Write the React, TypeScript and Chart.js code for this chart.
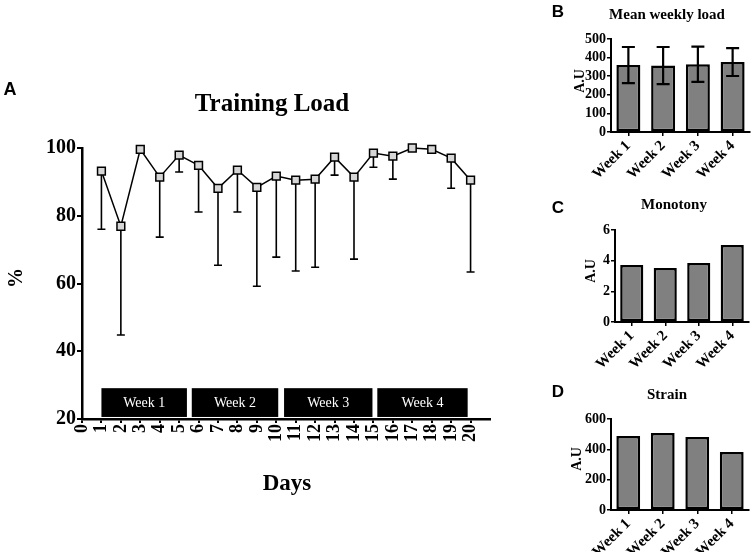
import React, { useEffect, useRef } from "react";
import Chart from "chart.js/auto";

const SERIF = "'Liberation Serif', 'Times New Roman', serif";
const SANS = "'Liberation Sans', Arial, sans-serif";

// ---- Panel A data ----
const days = [1, 2, 3, 4, 5, 6, 7, 8, 9, 10, 11, 12, 13, 14, 15, 16, 17, 18, 19, 20];
const meanPct = [93.2, 76.9, 99.6, 91.4, 97.9, 94.9, 88.1, 93.5, 88.4, 91.7, 90.5, 90.8, 97.3, 91.4, 98.5, 97.6, 100.0, 99.6, 97.0, 90.5];
const lowerPct: (number | null)[] = [76.0, 44.8, null, 73.7, 92.9, 81.1, 65.4, 81.1, 59.2, 67.8, 63.7, 64.8, 92.0, 67.2, 94.3, 90.8, null, null, 88.1, 63.4];

const weekLabels = ["Week 1", "Week 2", "Week 3", "Week 4"];
const weekStartDay = [1, 5.65, 10.4, 15.2];
const weekEndDay = [5.4, 10.1, 14.95, 19.85];
const weekBandLow = 20.6;
const weekBandHigh = 29.1;

// ---- Panels B, C, D data ----
const meanWeeklyLoad = [360, 357, 364, 376];
const meanWeeklyLoadSD = [97, 100, 95, 75];
const monotony = [3.72, 3.52, 3.85, 5.02];
const strain = [488, 508, 481, 382];

function MainChart() {
  const ref = useRef<HTMLCanvasElement>(null);
  useEffect(() => {
    const overlay = {
      id: "overlayA",
      beforeDatasetsDraw(chart: any) {
        const { ctx } = chart;
        const x = chart.scales.x;
        const y = chart.scales.y;
        ctx.save();
        ctx.strokeStyle = "#000";
        ctx.lineWidth = 1.6;
        days.forEach((d, i) => {
          const lo = lowerPct[i];
          if (lo == null) return;
          const px = x.getPixelForValue(d);
          const py = y.getPixelForValue(meanPct[i]);
          const pl = y.getPixelForValue(lo);
          ctx.beginPath();
          ctx.moveTo(px, py);
          ctx.lineTo(px, pl);
          ctx.moveTo(px - 4, pl);
          ctx.lineTo(px + 4, pl);
          ctx.stroke();
        });
        const yT = y.getPixelForValue(weekBandHigh);
        const yB = y.getPixelForValue(weekBandLow);
        weekLabels.forEach((lab, i) => {
          const x0 = x.getPixelForValue(weekStartDay[i]);
          const x1 = x.getPixelForValue(weekEndDay[i]);
          ctx.fillStyle = "#000";
          ctx.fillRect(x0, yT, x1 - x0, yB - yT);
          ctx.fillStyle = "#fff";
          ctx.font = `14px ${SERIF}`;
          ctx.textAlign = "center";
          ctx.textBaseline = "middle";
          ctx.fillText(lab, (x0 + x1) / 2, (yT + yB) / 2 + 1);
        });
        ctx.restore();
      },
    };
    const chart = new Chart(ref.current as HTMLCanvasElement, {
      type: "line",
      data: {
        datasets: [
          {
            data: days.map((d, i) => ({ x: d, y: meanPct[i] })),
            borderColor: "#000",
            borderWidth: 1.5,
            pointStyle: "rect",
            pointRadius: 5.5,
            pointBackgroundColor: "#d6d6d6",
            pointBorderColor: "#000",
            pointBorderWidth: 1.5,
            clip: false,
            tension: 0,
          } as any,
        ],
      },
      options: {
        responsive: false,
        animation: false,
        devicePixelRatio: 1,
        layout: { padding: { top: 148, right: 10, left: 0, bottom: 0 } },
        plugins: { legend: { display: false }, title: { display: false }, tooltip: { enabled: false } },
        scales: {
          x: {
            type: "linear",
            min: 0,
            max: 21,
            afterBuildTicks: (s: any) => {
              s.ticks = s.ticks.filter((t: any) => t.value <= 20);
            },
            afterFit: (s: any) => {
              s.height = 133;
            },
            ticks: {
              stepSize: 1,
              autoSkip: false,
              minRotation: 90,
              maxRotation: 90,
              color: "#000",
              padding: 1,
              font: { family: SERIF, size: 18, weight: "bold" },
            },
            grid: { drawOnChartArea: false, color: "#000", lineWidth: 2, tickLength: 4 },
            border: { color: "#000", width: 2.5 },
          },
          y: {
            min: 20,
            max: 100,
            afterFit: (s: any) => {
              s.width = 82;
            },
            ticks: {
              stepSize: 20,
              autoSkip: false,
              color: "#000",
              padding: 1,
              font: { family: SERIF, size: 20, weight: "bold" },
            },
            grid: { drawOnChartArea: false, color: "#000", lineWidth: 2, tickLength: 5 },
            border: { color: "#000", width: 2.5 },
          },
        },
      } as any,
      plugins: [overlay],
    });
    return () => chart.destroy();
  }, []);
  return (
    <canvas
      ref={ref}
      width={500}
      height={552}
      style={{ position: "absolute", left: 0, top: 0, width: 500, height: 552 }}
    />
  );
}

type SmallProps = {
  values: number[];
  sd?: number[];
  yMax: number;
  yStep: number;
  left: number;
  top: number;
  w: number;
  h: number;
  areaLeft: number;
  areaTop: number;
  areaRight: number;
  areaBottom: number;
};

function SmallBar(p: SmallProps) {
  const ref = useRef<HTMLCanvasElement>(null);
  useEffect(() => {
    const errPlugin = {
      id: "errBars",
      afterDatasetsDraw(chart: any) {
        if (!p.sd) return;
        const { ctx } = chart;
        const x = chart.scales.x;
        const y = chart.scales.y;
        ctx.save();
        ctx.strokeStyle = "#000";
        ctx.lineWidth = 2.2;
        p.values.forEach((v, i) => {
          const sdv = (p.sd as number[])[i];
          const px = x.getPixelForValue(i);
          const hi = y.getPixelForValue(v + sdv);
          const lo = y.getPixelForValue(v - sdv);
          ctx.beginPath();
          ctx.moveTo(px, hi);
          ctx.lineTo(px, lo);
          ctx.moveTo(px - 6.5, hi);
          ctx.lineTo(px + 6.5, hi);
          ctx.moveTo(px - 6.5, lo);
          ctx.lineTo(px + 6.5, lo);
          ctx.stroke();
        });
        ctx.restore();
      },
    };
    const chart = new Chart(ref.current as HTMLCanvasElement, {
      type: "bar",
      data: {
        labels: weekLabels,
        datasets: [
          {
            data: p.values,
            backgroundColor: "#808080",
            borderColor: "#000",
            borderWidth: 2.5,
            borderSkipped: false,
            categoryPercentage: 1,
            barPercentage: 0.69,
          } as any,
        ],
      },
      options: {
        responsive: false,
        animation: false,
        devicePixelRatio: 1,
        layout: { padding: { top: p.areaTop, right: p.w - p.areaRight, left: 0, bottom: 0 } },
        plugins: { legend: { display: false }, title: { display: false }, tooltip: { enabled: false } },
        scales: {
          x: {
            afterFit: (s: any) => {
              s.height = p.h - p.areaBottom;
            },
            ticks: {
              autoSkip: false,
              minRotation: 45,
              maxRotation: 45,
              color: "#000",
              padding: 1,
              font: { family: SERIF, size: 15, weight: "bold" },
            },
            grid: { offset: false, drawOnChartArea: false, color: "#000", lineWidth: 1.5, tickLength: 4 },
            border: { color: "#000", width: 2 },
          },
          y: {
            min: 0,
            max: p.yMax,
            afterFit: (s: any) => {
              s.width = p.areaLeft;
            },
            ticks: {
              stepSize: p.yStep,
              autoSkip: false,
              color: "#000",
              padding: 1,
              font: { family: SERIF, size: 14, weight: "bold" },
            },
            grid: { drawOnChartArea: false, color: "#000", lineWidth: 1.5, tickLength: 4 },
            border: { color: "#000", width: 2 },
          },
        },
      } as any,
      plugins: [errPlugin],
    });
    return () => chart.destroy();
  }, []);
  return (
    <canvas
      ref={ref}
      width={p.w}
      height={p.h}
      style={{ position: "absolute", left: p.left, top: p.top, width: p.w, height: p.h }}
    />
  );
}

function Txt(props: {
  x: number;
  y: number;
  size: number;
  text: string;
  rot?: number;
  sans?: boolean;
}) {
  return (
    <div
      style={{
        position: "absolute",
        left: props.x,
        top: props.y,
        transform: `translate(-50%, -50%) rotate(${props.rot || 0}deg)`,
        fontFamily: props.sans ? SANS : SERIF,
        fontWeight: "bold",
        fontSize: props.size,
        lineHeight: 1,
        whiteSpace: "nowrap",
        color: "#000",
      }}
    >
      {props.text}
    </div>
  );
}

export default function App() {
  return (
    <div style={{ position: "absolute", left: 0, top: 0, width: 754, height: 552, background: "#fff", overflow: "hidden" }}>
      <MainChart />
      <SmallBar
        values={meanWeeklyLoad}
        sd={meanWeeklyLoadSD}
        yMax={500}
        yStep={100}
        left={520}
        top={0}
        w={234}
        h={185}
        areaLeft={91}
        areaTop={39}
        areaRight={230}
        areaBottom={132}
      />
      <SmallBar
        values={monotony}
        yMax={6}
        yStep={2}
        left={520}
        top={180}
        w={234}
        h={190}
        areaLeft={95}
        areaTop={50}
        areaRight={229}
        areaBottom={142}
      />
      <SmallBar
        values={strain}
        yMax={600}
        yStep={200}
        left={520}
        top={360}
        w={234}
        h={192}
        areaLeft={91}
        areaTop={59}
        areaRight={229}
        areaBottom={150}
      />
      <Txt x={10} y={89} size={18} text="A" sans />
      <Txt x={272} y={102} size={25} text="Training Load" />
      <Txt x={15} y={278} size={20} text="%" rot={-90} />
      <Txt x={287} y={482} size={23} text="Days" />
      <Txt x={558} y={11} size={17} text="B" sans />
      <Txt x={667} y={14} size={15} text="Mean weekly load" />
      <Txt x={580} y={81} size={14} text="A.U" rot={-90} />
      <Txt x={558} y={207} size={17} text="C" sans />
      <Txt x={674} y={204} size={15} text="Monotony" />
      <Txt x={591} y={271} size={14} text="A.U" rot={-90} />
      <Txt x={558} y={391} size={17} text="D" sans />
      <Txt x={667} y={394} size={15} text="Strain" />
      <Txt x={577} y={459} size={14} text="A.U" rot={-90} />
    </div>
  );
}
